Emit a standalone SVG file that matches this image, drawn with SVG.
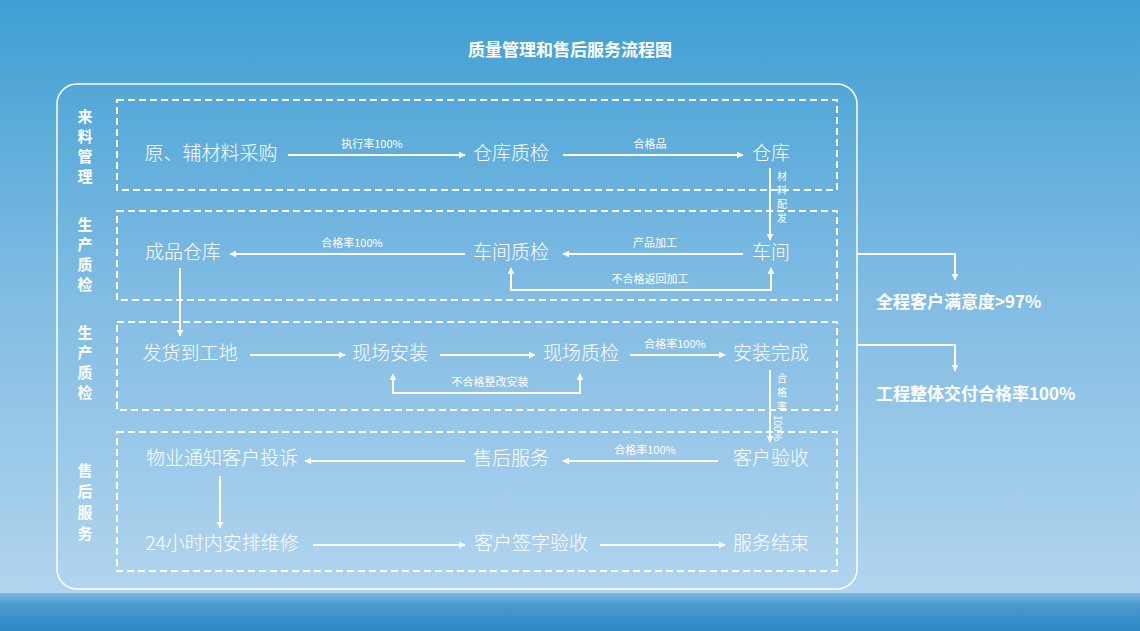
<svg xmlns="http://www.w3.org/2000/svg" width="1140" height="631" viewBox="0 0 1140 631">
<defs>
<linearGradient id="bg" x1="0" y1="0" x2="0" y2="1">
<stop offset="0" stop-color="#3f9fd3"/><stop offset="0.45" stop-color="#7fbbe3"/><stop offset="1" stop-color="#b8d8f0"/>
</linearGradient>
<linearGradient id="sea" x1="0" y1="0" x2="0" y2="1">
<stop offset="0" stop-color="#7ab8e0"/><stop offset="0.3" stop-color="#4d9bd0"/><stop offset="1" stop-color="#2a86c4"/>
</linearGradient>
<marker id="ah" viewBox="0 0 10 10" refX="9" refY="5" markerWidth="7" markerHeight="7" orient="auto-start-reverse" markerUnits="userSpaceOnUse"><path d="M0,0 L10,5 L0,10 Z" fill="#fff"/></marker>
<style>
.dash{fill:none;stroke:#fff;stroke-width:2;stroke-dasharray:7 4}
.n{font-family:"Noto Sans CJK SC","Noto Sans",sans-serif;font-size:19px;font-weight:300;fill:#fff;text-anchor:middle;dominant-baseline:middle}
.l{font-family:"Noto Sans CJK SC","Noto Sans",sans-serif;font-size:11px;fill:#fff;text-anchor:middle}
.v{font-family:"Noto Sans CJK SC","Noto Sans",sans-serif;font-size:10px;fill:#fff;text-anchor:middle}
.s{font-family:"Noto Sans CJK SC","Noto Sans",sans-serif;font-size:16px;font-weight:bold;fill:#fff;text-anchor:middle}
.k{font-family:"Noto Sans CJK SC","Noto Sans",sans-serif;font-size:15px;font-weight:bold;fill:#fff;text-anchor:middle}
.b{font-family:"Noto Sans CJK SC","Noto Sans",sans-serif;font-size:17px;font-weight:bold;fill:#fff}
.c line,.c polyline,.c path{stroke:#fff;stroke-width:2;fill:none;marker-end:url(#ah)}
</style>
</defs>
<rect width="1140" height="631" fill="url(#bg)"/>
<rect y="593" width="1140" height="38" fill="url(#sea)"/>
<text x="570" y="56" class="s" style="font-size:17px">质量管理和售后服务流程图</text>
<rect x="57" y="84" width="800" height="505" rx="20" fill="none" stroke="#fff" stroke-width="1.5"/>
<rect class="dash" x="117" y="100" width="720" height="90"/>
<rect class="dash" x="117" y="211" width="720" height="89"/>
<rect class="dash" x="117" y="322" width="720" height="88"/>
<rect class="dash" x="117" y="432" width="720" height="139"/>
<g id="labels">
<text class="k" x="85" y="122">来</text><text class="k" x="85" y="142">料</text><text class="k" x="85" y="162">管</text><text class="k" x="85" y="182">理</text>
<text class="k" x="85" y="230">生</text><text class="k" x="85" y="250">产</text><text class="k" x="85" y="270">质</text><text class="k" x="85" y="290">检</text>
<text class="k" x="85" y="338">生</text><text class="k" x="85" y="358">产</text><text class="k" x="85" y="378">质</text><text class="k" x="85" y="398">检</text>
<text class="k" x="85" y="476">售</text><text class="k" x="85" y="497">后</text><text class="k" x="85" y="518">服</text><text class="k" x="85" y="539">务</text>
</g>
<g id="n1"><text class="n" x="211" y="155">原、辅材料采购</text></g>
<g id="n2"><text class="n" x="511" y="155">仓库质检</text></g>
<g id="n3"><text class="n" x="771" y="155">仓库</text></g>
<g id="n4"><text class="n" x="183" y="254">成品仓库</text></g>
<g id="n5"><text class="n" x="511" y="254">车间质检</text></g>
<g id="n6"><text class="n" x="771" y="254">车间</text></g>
<g id="n7"><text class="n" x="190" y="355">发货到工地</text></g>
<g id="n8"><text class="n" x="390" y="355">现场安装</text></g>
<g id="n9"><text class="n" x="581" y="355">现场质检</text></g>
<g id="n10"><text class="n" x="771" y="355">安装完成</text></g>
<g id="n11"><text class="n" x="222" y="460">物业通知客户投诉</text></g>
<g id="n12"><text class="n" x="511" y="460">售后服务</text></g>
<g id="n13"><text class="n" x="771" y="460">客户验收</text></g>
<g id="n14"><text class="n" x="222" y="545">24小时内安排维修</text></g>
<g id="n15"><text class="n" x="531" y="545">客户签字验收</text></g>
<g id="n16"><text class="n" x="771" y="545">服务结束</text></g>
<g id="r1"><text class="b" x="876" y="308">全程客户满意度&gt;97%</text></g>
<g id="r2"><text class="b" x="876" y="400">工程整体交付合格率100%</text></g>
<g id="connectors" class="c">
<line x1="288" y1="155" x2="465" y2="155"/>
<line x1="563" y1="155" x2="743" y2="155"/>
<line x1="770" y1="168" x2="770" y2="240"/>
<line x1="743" y1="254" x2="563" y2="254"/>
<line x1="465" y1="254" x2="230" y2="254"/>
<polyline points="771,290 511,290 511,268"/>
<polyline points="511,290 771,290 771,268"/>
<line x1="180" y1="268" x2="180" y2="336"/>
<line x1="250" y1="355" x2="345" y2="355"/>
<line x1="440" y1="355" x2="535" y2="355"/>
<line x1="630" y1="355" x2="725" y2="355"/>
<polyline points="580,393 393,393 393,374"/>
<polyline points="393,393 580,393 580,374"/>
<line x1="770" y1="370" x2="770" y2="442"/>
<line x1="718" y1="461" x2="563" y2="461"/>
<line x1="465" y1="461" x2="305" y2="461"/>
<line x1="220" y1="476" x2="220" y2="528"/>
<line x1="313" y1="545" x2="465" y2="545"/>
<line x1="600" y1="545" x2="725" y2="545"/>
<polyline points="857,254 955,254 955,280"/>
<polyline points="857,345 955,345 955,371"/>
</g>
<g id="clabels">
<text class="l" x="372" y="148">执行率100%</text>
<text class="l" x="650" y="148">合格品</text>
<text class="l" x="655" y="247">产品加工</text>
<text class="l" x="352" y="247">合格率100%</text>
<text class="l" x="650" y="283">不合格返回加工</text>
<text class="l" x="675" y="348">合格率100%</text>
<text class="l" x="490" y="386">不合格整改安装</text>
<text class="l" x="645" y="454">合格率100%</text>
<text class="v" x="782" y="180">材</text><text class="v" x="782" y="194">料</text><text class="v" x="782" y="208">配</text><text class="v" x="782" y="222">发</text>
<text class="v" x="782" y="382">合</text><text class="v" x="782" y="396">格</text><text class="v" x="782" y="410">率</text>
<text class="v" x="777" y="415" transform="rotate(90 777 415)" style="text-anchor:start;dominant-baseline:middle">100%</text>
</g>
</svg>
